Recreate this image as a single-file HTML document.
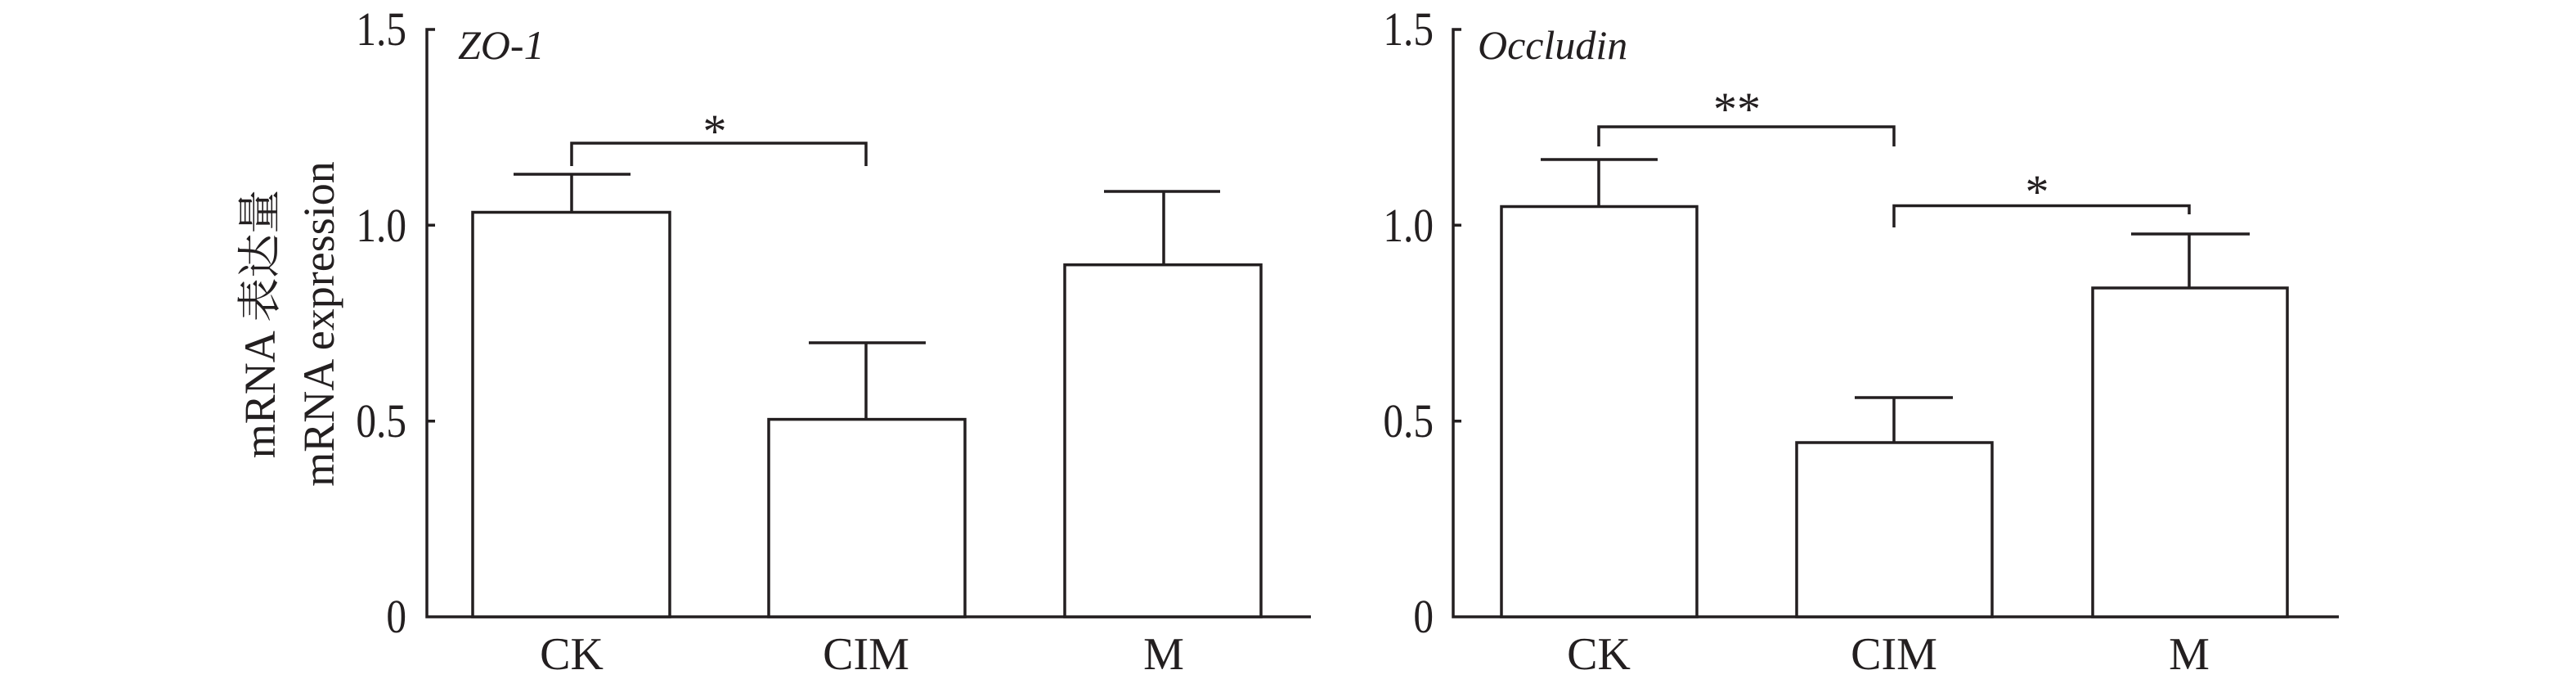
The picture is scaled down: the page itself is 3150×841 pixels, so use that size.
<!DOCTYPE html>
<html><head><meta charset="utf-8"><style>body{margin:0;background:#fff}svg{display:block}</style></head><body>
<svg width="3150" height="841" viewBox="0 0 3150 841" xmlns="http://www.w3.org/2000/svg" font-family="Liberation Serif, Noto Serif CJK SC, serif" fill="#231f20">
<g stroke="#231f20" stroke-width="3.5" fill="none">
<path d="M532,36 H522 V754 H1603"/>
<path d="M522,275.3 H532 M522,514.7 H532"/>
<path d="M699,741 V754 M1059,741 V754 M1423,741 V754"/>
<rect x="578" y="259.5" width="241" height="494.5" fill="#fff"/>
<rect x="940" y="512.6" width="240" height="241.4" fill="#fff"/>
<rect x="1302" y="323.7" width="240" height="430.3" fill="#fff"/>
<path d="M699,259.5 V213 M628,213 H771"/>
<path d="M1059,512.6 V419 M989,419 H1132"/>
<path d="M1423,323.7 V234 M1350,234 H1492"/>
<path d="M699,203 V175 H1059 V203"/>
<path d="M1787,36 H1777 V754 H2860"/>
<path d="M1777,275.3 H1787 M1777,514.7 H1787"/>
<path d="M1955,741 V754 M2316,741 V754 M2677,741 V754"/>
<rect x="1836" y="252.5" width="239" height="501.5" fill="#fff"/>
<rect x="2197" y="541" width="239" height="213" fill="#fff"/>
<rect x="2559" y="352" width="238" height="402" fill="#fff"/>
<path d="M1955,252.5 V195 M1884,195 H2027"/>
<path d="M2316,541 V486 M2268,486 H2388"/>
<path d="M2677,352 V286 M2606,286 H2751"/>
<path d="M1955,179 V155 H2316 V179"/>
<path d="M2316,278 V251.5 H2677 V262"/>
</g>
<g font-size="58" text-anchor="end">
<text x="497" y="55" transform="translate(497 0) scale(0.85 1) translate(-497 0)">1.5</text>
<text x="497" y="295" transform="translate(497 0) scale(0.85 1) translate(-497 0)">1.0</text>
<text x="497" y="534" transform="translate(497 0) scale(0.85 1) translate(-497 0)">0.5</text>
<text x="497" y="773" transform="translate(497 0) scale(0.85 1) translate(-497 0)">0</text>
<text x="1753" y="55" transform="translate(1753 0) scale(0.85 1) translate(-1753 0)">1.5</text>
<text x="1753" y="295" transform="translate(1753 0) scale(0.85 1) translate(-1753 0)">1.0</text>
<text x="1753" y="534" transform="translate(1753 0) scale(0.85 1) translate(-1753 0)">0.5</text>
<text x="1753" y="773" transform="translate(1753 0) scale(0.85 1) translate(-1753 0)">0</text>
</g>
<g font-size="56" text-anchor="middle">
<text x="699" y="818">CK</text><text x="1059" y="818">CIM</text><text x="1423" y="818">M</text>
<text x="1955" y="818">CK</text><text x="2316" y="818">CIM</text><text x="2677" y="818">M</text>
</g>
<g font-size="58" text-anchor="middle">
<text x="874" y="180">*</text>
<text x="2124" y="153">**</text>
<text x="2491" y="254">*</text>
</g>
<g font-size="50" font-style="italic">
<text x="560" y="72">ZO-1</text>
<text x="1807" y="72">Occludin</text>
</g>
<g font-size="54" text-anchor="middle">
<text transform="translate(336 396) rotate(-90)">mRNA 表达量</text>
<text transform="translate(408 396) rotate(-90)">mRNA expression</text>
</g>
</svg>
</body></html>
